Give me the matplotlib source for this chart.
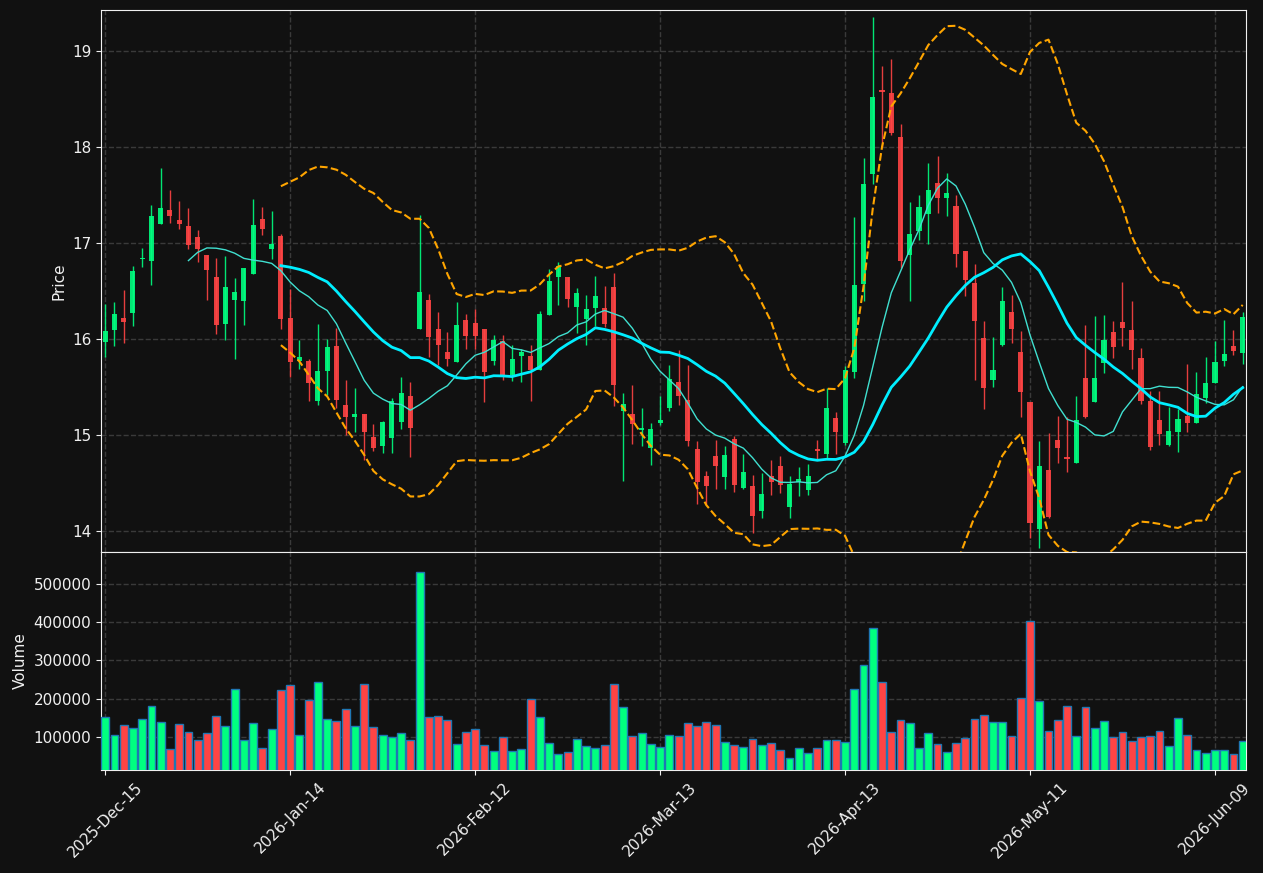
import numpy as np
import pandas as pd
import matplotlib
matplotlib.use("Agg")
import matplotlib.pyplot as plt

# OHLC
opens = [15.97, 16.09, 16.22, 16.27, 16.83, 16.81, 17.20, 17.35, 17.24, 17.18,
         17.06, 16.88, 16.65, 16.16, 16.41, 16.40, 16.68, 17.25, 16.94, 17.07,
         16.22, 15.77, 15.77, 15.35, 15.67, 15.93, 15.31, 15.19, 15.22, 14.98,
         14.89, 14.97, 15.14, 15.41, 16.11, 16.41, 16.10, 15.86, 15.76, 16.20,
         16.17, 16.11, 15.77, 15.98, 15.63, 15.82, 15.82, 15.68, 16.25, 16.65,
         16.65, 16.33, 16.21, 16.32, 16.32, 16.54, 15.25, 15.22, 15.05, 14.86,
         15.13, 15.28, 15.55, 15.36, 14.85, 14.57, 14.78, 14.56, 14.96, 14.45,
         14.47, 14.21, 14.57, 14.68, 14.25, 14.51, 14.43, 14.85, 14.80, 15.18,
         14.92, 15.66, 16.57, 17.72, 18.60, 18.56, 18.11, 16.88, 17.13, 17.30,
         17.63, 17.47, 17.39, 16.92, 16.58, 16.01, 15.57, 15.94, 16.28, 15.86,
         15.34, 14.02, 14.63, 14.95, 14.77, 14.71, 15.59, 15.34, 15.75, 16.07,
         16.18, 16.09, 15.80, 15.35, 15.16, 14.90, 15.03, 15.20, 15.13, 15.39,
         15.54, 15.77, 15.93, 15.85]
highs = [16.37, 16.39, 16.51, 16.76, 16.95, 17.40, 17.78, 17.55, 17.44, 17.37,
         17.14, 16.88, 16.85, 16.87, 16.64, 16.74, 17.46, 17.38, 17.34, 17.09,
         16.52, 15.99, 15.79, 16.16, 16.00, 16.12, 15.57, 15.49, 15.22, 15.11,
         15.15, 15.39, 15.60, 15.55, 17.29, 16.47, 16.28, 16.07, 16.39, 16.26,
         16.31, 16.11, 16.04, 16.04, 15.94, 15.90, 15.94, 16.29, 16.73, 16.80,
         16.65, 16.53, 16.46, 16.66, 16.55, 16.69, 15.44, 15.52, 15.28, 15.12,
         15.41, 15.73, 15.89, 15.73, 14.94, 14.62, 14.95, 14.88, 14.99, 14.80,
         14.58, 14.60, 14.74, 14.78, 14.57, 14.67, 14.70, 14.95, 15.49, 15.24,
         15.72, 17.27, 17.89, 19.36, 18.85, 18.92, 18.24, 17.43, 17.50, 17.84,
         17.91, 17.73, 17.50, 16.92, 16.78, 16.19, 16.02, 16.54, 16.46, 16.08,
         15.34, 14.94, 15.02, 15.20, 15.19, 15.41, 16.15, 16.24, 16.25, 16.19,
         16.59, 16.40, 15.91, 15.46, 15.46, 15.29, 15.27, 15.74, 15.66, 15.81,
         15.98, 16.20, 16.09, 16.28]
lows = [15.81, 15.93, 15.96, 16.14, 16.75, 16.56, 17.20, 17.21, 17.15, 16.94,
        16.80, 16.41, 16.05, 15.99, 15.79, 16.15, 16.68, 17.08, 16.83, 16.10,
        15.60, 15.69, 15.35, 15.31, 15.42, 15.28, 15.00, 15.03, 14.74, 14.83,
        14.81, 14.81, 15.06, 14.77, 16.11, 15.81, 15.73, 15.72, 15.76, 15.90,
        15.90, 15.34, 15.73, 15.57, 15.56, 15.55, 15.35, 15.68, 16.25, 16.35,
        16.33, 16.06, 15.94, 16.14, 16.13, 15.30, 14.52, 14.91, 14.89, 14.69,
        15.10, 15.25, 15.31, 14.89, 14.28, 14.28, 14.44, 14.44, 14.41, 14.44,
        13.98, 14.13, 14.37, 14.39, 14.13, 14.36, 14.37, 14.74, 14.76, 14.80,
        14.90, 15.59, 16.40, 17.62, 18.00, 18.13, 16.74, 16.40, 17.03, 16.99,
        17.31, 17.28, 16.75, 16.45, 15.57, 15.27, 15.50, 15.93, 15.96, 15.19,
        13.93, 13.82, 14.13, 14.71, 14.61, 14.71, 15.18, 15.34, 15.65, 15.80,
        15.93, 15.69, 15.32, 14.84, 14.90, 14.88, 14.82, 15.03, 15.13, 15.33,
        15.54, 15.72, 15.83, 15.74]
closes = [16.08, 16.26, 16.18, 16.71, 16.84, 17.28, 17.37, 17.28, 17.20, 16.98,
          16.94, 16.72, 16.15, 16.54, 16.49, 16.74, 17.19, 17.15, 16.99, 16.21,
          15.76, 15.81, 15.54, 15.67, 15.92, 15.36, 15.19, 15.22, 15.03, 14.86,
          15.14, 15.35, 15.44, 15.07, 16.49, 16.02, 15.94, 15.79, 16.15, 16.03,
          16.03, 15.66, 15.99, 15.63, 15.79, 15.86, 15.68, 16.26, 16.60, 16.76,
          16.42, 16.48, 16.31, 16.45, 16.16, 15.52, 15.32, 15.11, 15.07, 15.06,
          15.16, 15.58, 15.41, 14.94, 14.51, 14.47, 14.68, 14.79, 14.48, 14.61,
          14.16, 14.38, 14.51, 14.48, 14.49, 14.54, 14.57, 14.83, 15.28, 15.03,
          15.68, 16.56, 17.62, 18.52, 18.58, 18.15, 16.81, 17.09, 17.38, 17.55,
          17.47, 17.52, 16.89, 16.62, 16.19, 15.49, 15.68, 16.40, 16.10, 15.45,
          14.08, 14.68, 14.15, 14.86, 14.75, 15.16, 15.19, 15.59, 15.99, 15.92,
          16.12, 15.89, 15.35, 14.87, 15.01, 15.04, 15.17, 15.13, 15.43, 15.54,
          15.76, 15.84, 15.88, 16.23]
volumes = [151800, 104400, 130700, 122800, 146500, 180700, 138600, 67500, 133300, 112300,
           91200, 109600, 154400, 128100, 225400, 91200, 136000, 70200, 120200, 222800,
           236000, 104400, 196500, 243900, 146500, 141200, 172800, 128100, 238600, 125400,
           104400, 99100, 109600, 91200, 530700, 151800, 154400, 143900, 80700, 112300,
           120200, 78100, 64000, 99100, 64000, 67500, 199100, 151800, 83300, 54400,
           59600, 93900, 75400, 70200, 78100, 238600, 178100, 101800, 109600, 80700,
           72800, 104400, 101800, 136000, 128100, 138600, 130700, 86000, 78100, 72800,
           93900, 78100, 83300, 64900, 43900, 70200, 57000, 70200, 91200, 91200,
           86000, 225400, 288600, 386000, 243900, 112300, 143900, 136000, 70200, 109600,
           80700, 59600, 83300, 96500, 146500, 157000, 138600, 138600, 101800, 201800,
           404400, 193900, 114900, 143900, 180700, 101800, 178100, 122800, 141200, 99100,
           112300, 88600, 99100, 101800, 114900, 75400, 149100, 104400, 64900, 57000,
           64900, 64900, 54400, 88600]

holidays = ['2025-12-25', '2026-01-01', '2026-01-19', '2026-02-16', '2026-04-03', '2026-05-25']
dates = pd.bdate_range('2025-12-15', periods=len(closes), freq='C', holidays=holidays)

df = pd.DataFrame({'Open': opens, 'High': highs, 'Low': lows, 'Close': closes,
                   'Volume': volumes}, index=dates)

ma10 = df['Close'].rolling(10).mean()
ma20 = df['Close'].rolling(20).mean()
sd20 = df['Close'].rolling(20).std(ddof=0)
bb_up = ma20 + 2 * sd20
bb_lo = ma20 - 2 * sd20

bg = '#111111'
up_col = '#00ff80'
dn_col = '#ff4444'
grid_col = '#3a3a3a'
txt_col = '#f0f0f0'

plt.rcParams['font.size'] = 11

fig = plt.figure(figsize=(12.63, 8.73), dpi=100, facecolor=bg)
ax = fig.add_axes([0.080, 0.3677, 0.9065, 0.6208])
axv = fig.add_axes([0.080, 0.118, 0.9065, 0.2497], sharex=ax)

x = np.arange(len(df))
is_up = df['Close'].values >= df['Open'].values
cols = np.where(is_up, up_col, dn_col)

# candles
ax.vlines(x, df['Low'], df['High'], colors=cols, linewidth=1, alpha=0.9, zorder=2)
body_bot = np.minimum(df['Open'], df['Close'])
body_h = np.maximum(np.abs(df['Close'] - df['Open']), 0.01)
ax.bar(x, body_h, bottom=body_bot, width=0.55, color=cols, alpha=0.9, linewidth=0, zorder=3)

# moving averages + bollinger
ax.plot(x, ma10, color='#40e0d0', linewidth=1, zorder=4)
ax.plot(x, ma20, color='#00eeff', linewidth=2, zorder=4)
ax.plot(x, bb_up, color='#ffa500', linewidth=1.5, linestyle='--', zorder=4)
ax.plot(x, bb_lo, color='#ffa500', linewidth=1.5, linestyle='--', zorder=4)

# volume
axv.bar(x, df['Volume'], width=0.85, color=cols, edgecolor='#1f77b4', linewidth=1, zorder=3)

ax.set_xlim(-0.45, len(df) - 0.65)
ax.set_ylim(13.78, 19.43)
axv.set_ylim(0.3 * min(volumes), 1.1 * max(volumes))

ticks = list(range(0, len(df), 20))
axv.set_xticks(ticks)
axv.set_xticklabels([dates[i].strftime('%Y-%b-%d') for i in ticks], rotation=45, ha='center')
plt.setp(ax.get_xticklabels(), visible=False)
ax.tick_params(axis='x', length=0)

axv.set_yticks([100000, 200000, 300000, 400000, 500000])
axv.ticklabel_format(axis='y', style='plain')

for a in (ax, axv):
    a.set_facecolor(bg)
    a.grid(True, color=grid_col, linestyle='--', linewidth=1)
    a.set_axisbelow(True)
    a.tick_params(colors=txt_col, labelcolor=txt_col)
    for s in a.spines.values():
        s.set_color(txt_col)

ax.set_ylabel('Price', color=txt_col)
axv.set_ylabel('Volume', color=txt_col)

fig.savefig('out.png', dpi=100, facecolor=bg)
